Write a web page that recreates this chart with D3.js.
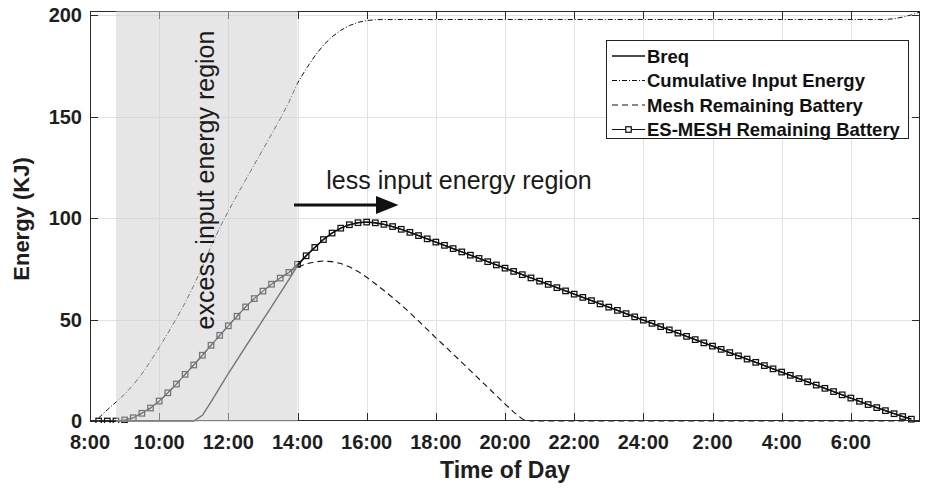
<!DOCTYPE html>
<html>
<head>
<meta charset="utf-8">
<script src="https://cdn.jsdelivr.net/npm/d3@7"></script>
<style>
  html, body { margin: 0; padding: 0; background: #fff; }
  svg { display: block; font-family: "Liberation Sans", Arial, Helvetica, sans-serif; }
</style>
</head>
<body>
<svg id="chart" width="925" height="488"></svg>
<script>
// Sampling grid: every 15 minutes, 8:15 through 7:45 next morning (hours past midnight of day 1)
const sampleHours = d3.range(33, 128).map(i => i / 4);
// Cumulative input energy has one extra sample at 8:00 next morning
const cumulativeHours = d3.range(33, 129).map(i => i / 4);

const esMeshBattery = [
  0, 0, 0, 0.5, 1.6, 3.8, 6.4, 9.8,
  13.9, 18.2, 23.0, 27.6, 32.4, 37.3, 42.2, 46.9,
  51.6, 56.2, 60.3, 64.0, 67.4, 70.4, 73.2, 77.2,
  81.4, 85.5, 89.4, 92.6, 95.0, 96.7, 97.7, 98.0,
  97.65, 96.9, 95.8, 94.45, 92.95, 91.35, 89.75, 88.15,
  86.55, 84.95, 83.3, 81.7, 80.1, 78.5, 76.9, 75.3,
  73.7, 72.1, 70.5, 68.9, 67.3, 65.7, 64.1, 62.5,
  60.9, 59.3, 57.7, 56.1, 54.5, 52.9, 51.3, 49.7,
  48.1, 46.5, 44.9, 43.3, 41.7, 40.1, 38.5, 36.9,
  35.3, 33.7, 32.1, 30.5, 28.9, 27.3, 25.7, 24.1,
  22.5, 20.9, 19.3, 17.7, 16.1, 14.5, 12.9, 11.3,
  9.7, 8.1, 6.6, 5.1, 3.6, 2.2, 0.9
];

const breq = [
  0, 0, 0, 0, 0, 0, 0, 0,
  0, 0, 0, 0, 2.8, 9.4, 16.4, 23.4,
  30.0, 36.6, 43.2, 49.8, 56.4, 63.0, 69.6, 76.5,
  81.4, 85.5, 89.4, 92.6, 95.0, 96.7, 97.7, 98.0,
  97.65, 96.9, 95.8, 94.45, 92.95, 91.35, 89.75, 88.15,
  86.55, 84.95, 83.3, 81.7, 80.1, 78.5, 76.9, 75.3,
  73.7, 72.1, 70.5, 68.9, 67.3, 65.7, 64.1, 62.5,
  60.9, 59.3, 57.7, 56.1, 54.5, 52.9, 51.3, 49.7,
  48.1, 46.5, 44.9, 43.3, 41.7, 40.1, 38.5, 36.9,
  35.3, 33.7, 32.1, 30.5, 28.9, 27.3, 25.7, 24.1,
  22.5, 20.9, 19.3, 17.7, 16.1, 14.5, 12.9, 11.3,
  9.7, 8.1, 6.6, 5.1, 3.6, 2.2, 0.9
];

const meshBattery = [
  0, 0, 0, 0.5, 1.6, 3.8, 6.4, 9.8,
  13.9, 18.2, 23.0, 27.6, 32.4, 37.3, 42.2, 46.9,
  51.6, 56.2, 60.3, 64.0, 67.4, 70.4, 73.2, 75.8,
  77.4, 78.4, 78.8, 78.5, 77.6, 76.0, 73.7, 70.8,
  67.6, 64.3, 60.8, 57.2, 53.3, 49.3, 45.1, 41.0,
  37.0, 33.0, 28.9, 24.8, 20.7, 16.6, 12.5, 8.4,
  4.4, 1.0, 0, 0, 0, 0, 0, 0,
  0, 0, 0, 0, 0, 0, 0, 0,
  0, 0, 0, 0, 0, 0, 0, 0,
  0, 0, 0, 0, 0, 0, 0, 0,
  0, 0, 0, 0, 0, 0, 0, 0,
  0, 0, 0, 0, 0, 0, 0
];

const cumulativeInput = [
  1.5, 5.5, 9.3, 13.2, 17.8, 23.2, 29.5, 36.2,
  43.2, 50.5, 58.2, 66.8, 76.0, 86.0, 95.2, 103.4,
  111.2, 118.8, 126.3, 133.8, 141.3, 148.9, 157.0, 166.5,
  173.5, 179.8, 185.2, 189.3, 192.5, 194.8, 196.4, 197.3,
  197.7, 197.8, 197.8, 197.8, 197.8, 197.8, 197.8, 197.8,
  197.8, 197.8, 197.8, 197.8, 197.8, 197.8, 197.8, 197.8,
  197.8, 197.8, 197.8, 197.8, 197.8, 197.8, 197.8, 197.8,
  197.8, 197.8, 197.8, 197.8, 197.8, 197.8, 197.8, 197.8,
  197.8, 197.8, 197.8, 197.8, 197.8, 197.8, 197.8, 197.8,
  197.8, 197.8, 197.8, 197.8, 197.8, 197.8, 197.8, 197.8,
  197.8, 197.8, 197.8, 197.8, 197.8, 197.8, 197.8, 197.8,
  197.8, 197.8, 197.8, 197.8, 198.2, 199.0, 200.1, 201.5
];

const xTickHours = [8, 10, 12, 14, 16, 18, 20, 22, 24, 26, 28, 30];
const xTickLabels = ["8:00", "10:00", "12:00", "14:00", "16:00", "18:00", "20:00", "22:00", "24:00", "2:00", "4:00", "6:00"];
const yTickValues = [0, 50, 100, 150, 200];
const excessRegion = [8.75, 14];

const legendLabels = ["Breq", "Cumulative Input Energy", "Mesh Remaining Battery", "ES-MESH Remaining Battery"];

// ---- layout ----
const plotLeft = 90, plotRight = 920, plotTop = 11, plotBottom = 421;
const svg = d3.select("#chart");
const x = d3.scaleLinear().domain([8, 32]).range([plotLeft, plotRight]);
const y = d3.scaleLinear().domain([0, 202]).range([plotBottom, plotTop]);
const axisColor = "#2a2a2a";
const px = v => Math.round(v) + 0.5;

svg.append("defs").append("clipPath").attr("id", "plotClip")
  .append("rect").attr("x", plotLeft).attr("y", plotTop - 2)
  .attr("width", plotRight - plotLeft).attr("height", plotBottom - plotTop + 4);

// grid
const grid = svg.append("g").attr("stroke", "#e2e2e2").attr("stroke-width", 1);
grid.selectAll("line.gx").data(xTickHours.slice(1)).join("line")
  .attr("x1", d => px(x(d))).attr("x2", d => px(x(d)))
  .attr("y1", plotTop).attr("y2", plotBottom);
grid.selectAll("line.gy").data(yTickValues.slice(1)).join("line")
  .attr("y1", d => px(y(d))).attr("y2", d => px(y(d)))
  .attr("x1", plotLeft).attr("x2", plotRight);

// series
const plot = svg.append("g").attr("clip-path", "url(#plotClip)");
const lineOf = (hours) => d3.line().x((d, i) => x(hours[i])).y(d => y(d));

plot.append("path").datum(cumulativeInput)
  .attr("d", lineOf(cumulativeHours))
  .attr("fill", "none").attr("stroke", "#111").attr("stroke-width", 1)
  .attr("stroke-dasharray", "5,2,1,2");

plot.append("path").datum(meshBattery)
  .attr("d", lineOf(sampleHours))
  .attr("fill", "none").attr("stroke", "#111").attr("stroke-width", 1.1)
  .attr("stroke-dasharray", "6,4");

plot.append("path").datum(breq)
  .attr("d", lineOf(sampleHours))
  .attr("fill", "none").attr("stroke", "#111").attr("stroke-width", 1.4);

plot.append("path").datum(esMeshBattery)
  .attr("d", lineOf(sampleHours))
  .attr("fill", "none").attr("stroke", "#111").attr("stroke-width", 1.2);

const ms = 5.5;
plot.selectAll("rect.marker").data(esMeshBattery).join("rect")
  .attr("class", "marker")
  .attr("x", (d, i) => x(sampleHours[i]) - ms / 2)
  .attr("y", d => y(d) - ms / 2)
  .attr("width", ms).attr("height", ms)
  .attr("fill", "none").attr("stroke", "#111").attr("stroke-width", 1.25);

// axes box and inward ticks
const axes = svg.append("g").attr("stroke", axisColor).attr("stroke-width", 1);
axes.append("rect").attr("x", plotLeft + 0.5).attr("y", plotTop + 0.5)
  .attr("width", plotRight - plotLeft - 1).attr("height", plotBottom - plotTop - 1).attr("fill", "none");
const tl = 8;
xTickHours.forEach(h => {
  axes.append("line").attr("x1", px(x(h))).attr("x2", px(x(h))).attr("y1", plotBottom).attr("y2", plotBottom - tl);
  axes.append("line").attr("x1", px(x(h))).attr("x2", px(x(h))).attr("y1", plotTop).attr("y2", plotTop + tl);
});
yTickValues.forEach(v => {
  axes.append("line").attr("y1", px(y(v))).attr("y2", px(y(v))).attr("x1", plotLeft).attr("x2", plotLeft + tl);
  axes.append("line").attr("y1", px(y(v))).attr("y2", px(y(v))).attr("x1", plotRight).attr("x2", plotRight - tl);
});

// shaded excess-input region (translucent, over lines)
svg.append("rect")
  .attr("x", x(excessRegion[0])).attr("y", plotTop)
  .attr("width", x(excessRegion[1]) - x(excessRegion[0]))
  .attr("height", plotBottom - plotTop + 1)
  .attr("fill", "#d0d0d0").attr("fill-opacity", 0.52);

// tick labels
const tickFont = 20;
svg.append("g").selectAll("text").data(xTickHours).join("text")
  .attr("x", d => x(d)).attr("y", plotBottom + 28)
  .attr("text-anchor", "middle").attr("font-size", tickFont).attr("font-weight", "bold")
  .attr("fill", "#1e1e1e").text((d, i) => xTickLabels[i]);
svg.append("g").selectAll("text").data(yTickValues).join("text")
  .attr("x", plotLeft - 8).attr("y", d => y(d) + 7.2)
  .attr("text-anchor", "end").attr("font-size", tickFont).attr("font-weight", "bold")
  .attr("fill", "#1e1e1e").text(d => d);

// axis titles
svg.append("text").attr("x", (plotLeft + plotRight) / 2).attr("y", 478)
  .attr("text-anchor", "middle").attr("font-size", 23).attr("font-weight", "bold")
  .attr("fill", "#1e1e1e").text("Time of Day");
svg.append("text").attr("transform", `translate(29,219) rotate(-90)`)
  .attr("text-anchor", "middle").attr("font-size", 22).attr("font-weight", "bold")
  .attr("fill", "#1e1e1e").text("Energy (KJ)");

// region annotations
svg.append("text")
  .attr("transform", `translate(214,180) rotate(-90)`)
  .attr("text-anchor", "middle").attr("font-size", 25).attr("fill", "#1a1a1a")
  .text("excess input energy region");
svg.append("text").attr("x", 459).attr("y", 189)
  .attr("text-anchor", "middle").attr("font-size", 25).attr("fill", "#1a1a1a")
  .text("less input energy region");

const arrowY = 205;
svg.append("line").attr("x1", 294).attr("x2", 380).attr("y1", arrowY).attr("y2", arrowY)
  .attr("stroke", "#111").attr("stroke-width", 3);
svg.append("path")
  .attr("d", `M376,${arrowY - 9} L398.5,${arrowY} L376,${arrowY + 9} Z`)
  .attr("fill", "#111");

// legend
const lg = svg.append("g");
lg.append("rect").attr("x", 606.5).attr("y", 40.5).attr("width", 302).attr("height", 98)
  .attr("fill", "#fff").attr("stroke", "#222").attr("stroke-width", 1);
const rowY = [56, 80.5, 105, 129.5];
const styles = [
  { dash: null, w: 1.3 },
  { dash: "5,2,1,2", w: 1 },
  { dash: "6,4", w: 1.1 },
  { dash: null, w: 1.2 }
];
legendLabels.forEach((label, i) => {
  lg.append("line").attr("x1", 612).attr("x2", 645).attr("y1", rowY[i]).attr("y2", rowY[i])
    .attr("stroke", "#111").attr("stroke-width", styles[i].w)
    .attr("stroke-dasharray", styles[i].dash);
  if (i === 3) {
    lg.append("rect").attr("x", 628.5 - ms / 2).attr("y", rowY[i] - ms / 2)
      .attr("width", ms).attr("height", ms).attr("fill", "#fff")
      .attr("stroke", "#111").attr("stroke-width", 1.25);
  }
  lg.append("text").attr("x", 647).attr("y", rowY[i] + 6.6)
    .attr("font-size", 18.5).attr("font-weight", "bold").attr("fill", "#111")
    .text(label);
});
</script>
</body>
</html>
